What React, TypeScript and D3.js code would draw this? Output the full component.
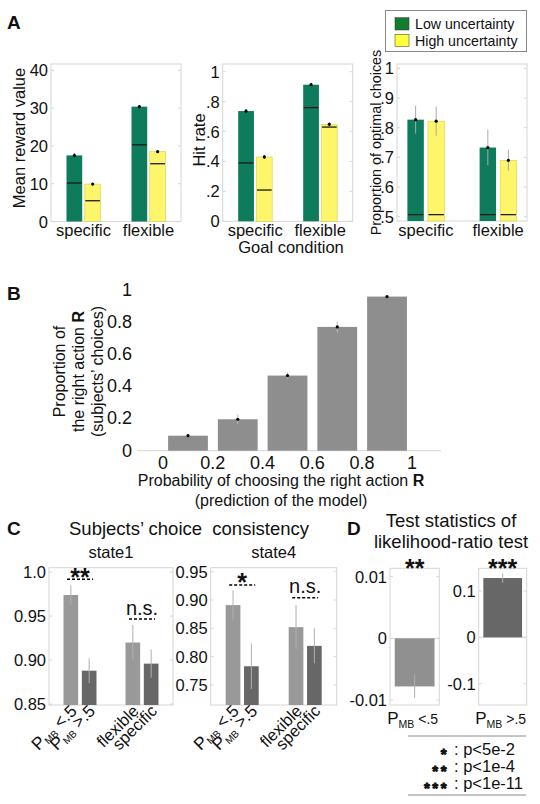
import React from 'react';
import * as d3 from 'd3';

// ---------------- Data ----------------
const goalConditions = ['specific', 'flexible'];
const uncertaintyLevels = ['Low uncertainty', 'High uncertainty'];

// A1 mean reward value
const rewardLow = [17.5, 30.4];
const rewardHigh = [9.9, 18.5];
const rewardLowErr = [0.5, 0.4];
const rewardHighErr = [0.3, 0.3];
const rewardRefLow = [10.2, 20.3];
const rewardRefHigh = [5.5, 15.3];
const rewardTicks = [0, 10, 20, 30, 40];

// A2 hit rate
const hitLow = [0.737, 0.913];
const hitHigh = [0.43, 0.648];
const hitLowErr = [0.012, 0.006];
const hitHighErr = [0.012, 0.012];
const hitRefLow = [0.39, 0.76];
const hitRefHigh = [0.209, 0.63];
const hitTicks = [0, 0.2, 0.4, 0.6, 0.8, 1];

// A3 proportion of optimal choices
const optLow = [0.827, 0.733];
const optHigh = [0.822, 0.69];
const optLowErr = [0.047, 0.06];
const optHighErr = [0.049, 0.035];
const optRefLow = [0.507, 0.507];
const optRefHigh = [0.507, 0.507];
const optTicks = [0.5, 0.6, 0.7, 0.8, 0.9, 1];

// B
const modelBins = [0.1, 0.3, 0.5, 0.7, 0.9];
const choiceProp = [0.093, 0.195, 0.466, 0.768, 0.956];
const choiceErr = [0.006, 0.03, 0.02, 0.035, 0.006];
const bYTicks = [0, 0.2, 0.4, 0.6, 0.8, 1];
const bXTicks = [0, 0.2, 0.4, 0.6, 0.8, 1];

// C
const consistencyGroups = ['pmbLow', 'pmbHigh', 'flexible', 'specific'];
const state1Cons = [0.974, 0.888, 0.92, 0.896];
const state1Err = [0.011, 0.014, 0.02, 0.016];
const state4Cons = [0.891, 0.783, 0.852, 0.819];
const state4Err = [0.026, 0.04, 0.039, 0.031];
const state1Ticks = [0.85, 0.9, 0.95, 1.0];
const state4Ticks = [0.75, 0.8, 0.85, 0.9, 0.95];
const state1Sig = ['**', 'n.s.'];
const state4Sig = ['*', 'n.s.'];

// D
const lrtStats = [-0.0078, 0.128];
const lrtErr = [0.0019, 0.01];
const lrtSig = ['**', '***'];
const lrtTicks1 = [-0.01, 0, 0.01];
const lrtTicks2 = [-0.1, 0, 0.1];
const sigStars = ['*', '**', '***'];
const sigText = [': p<5e-2', ': p<1e-4', ': p<1e-11'];

// ---------------- Style ----------------
const FONT = '"Liberation Sans", Arial, Helvetica, sans-serif';
const GREEN = '#0d7b5c';
const YELLOW = '#fdf56a';
const YELLOW_EDGE = '#d9cf4a';
const LEG_GREEN = '#127c2c';
const LEG_YELLOW = '#ffff3a';
const BOX = '#d6d6d6';
const LIGHT = '#999999';
const DARK = '#676767';
const TXT = '#111';
const STAR_FS = 25;

function GroupedPanel(props: any) {
  const { box, domain, ticks, fmt, low, high, lowErr, highErr, refLow, refHigh, padding, half, inner, errColor, fs } = props;
  const [x0, x1, y0, y1] = box;
  const y = d3.scaleLinear().domain(domain).range([y1, y0]);
  const xg = d3.scalePoint().domain(goalConditions).range([x0, x1]).padding(padding);
  const xs = d3.scaleBand().domain(uncertaintyLevels).range([-half, half]).paddingInner(inner);
  const series = [
    { key: uncertaintyLevels[0], vals: low, errs: lowErr, refs: refLow, fill: GREEN, stroke: 'none' },
    { key: uncertaintyLevels[1], vals: high, errs: highErr, refs: refHigh, fill: YELLOW, stroke: YELLOW_EDGE },
  ];
  const w = xs.bandwidth();
  return (
    <g>
      <rect x={x0} y={y0} width={x1 - x0} height={y1 - y0} fill="#fff" stroke={BOX} />
      {ticks.map((t: number) => (
        <g key={t}>
          <line x1={x0} x2={x0 + 3} y1={y(t)} y2={y(t)} stroke={BOX} />
          <line x1={x1} x2={x1 - 3} y1={y(t)} y2={y(t)} stroke={BOX} />
          <text x={x0 - 3} y={y(t)} textAnchor="end" dominantBaseline="central" fontSize={fs}>{fmt(t)}</text>
        </g>
      ))}
      {goalConditions.map((g, i) => (
        <g key={g}>
          {series.map((s) => {
            const bx = (xg(g) as number) + (xs(s.key) as number);
            const cx = bx + w / 2;
            return (
              <g key={s.key}>
                <rect x={bx} y={y(s.vals[i])} width={w} height={y(domain[0]) - y(s.vals[i])} fill={s.fill} stroke={s.stroke} strokeWidth={0.6} />
                <line x1={bx + 0.5} x2={bx + w - 0.5} y1={y(s.refs[i])} y2={y(s.refs[i])} stroke="#1a1a1a" strokeWidth={1.3} />
                <line x1={cx} x2={cx} y1={y(s.vals[i] - s.errs[i])} y2={y(s.vals[i] + s.errs[i])} stroke={errColor} strokeWidth={1} />
                <circle cx={cx} cy={y(s.vals[i])} r={1.6} fill="#000" />
              </g>
            );
          })}
          <text x={xg(g)} y={235.5} textAnchor="middle" fontSize={16.5}>{g}</text>
        </g>
      ))}
    </g>
  );
}

function PmbLabel({ sign, big, small, sub, shift }: any) {
  return (
    <>
      <tspan fontSize={big}>P</tspan>
      <tspan fontSize={sub} dy={shift}>MB</tspan>
      <tspan fontSize={small} dy={-shift}>{sign === '<' ? ' <.5' : ' >.5'}</tspan>
    </>
  );
}

function ConsistencyPanel(props: any) {
  const { box, domain, ticks, vals, errs, sig, sigY, title } = props;
  const [x0, x1, y0, y1] = box;
  const y = d3.scaleLinear().domain(domain).range([y1, y0]);
  const pairs = [consistencyGroups.slice(0, 2), consistencyGroups.slice(2, 4)];
  const xg = d3.scalePoint().domain(['pmb', 'goal']).range([x0, x1]).padding(0.5);
  const xsub = d3.scaleBand().domain(['a', 'b']).range([-16.5, 16.5]).paddingInner(0.2);
  const w = xsub.bandwidth();
  const midX = (x0 + x1) / 2;
  return (
    <g>
      <text x={midX} y={558} textAnchor="middle" fontSize={16.5}>{title}</text>
      <rect x={x0} y={y0} width={x1 - x0} height={y1 - y0} fill="#fff" stroke={BOX} />
      {ticks.map((t: number) => (
        <g key={t}>
          <line x1={x0} x2={x0 + 3} y1={y(t)} y2={y(t)} stroke={BOX} />
          <line x1={x1} x2={x1 - 3} y1={y(t)} y2={y(t)} stroke={BOX} />
          <text x={x0 - 3} y={y(t)} textAnchor="end" dominantBaseline="central" fontSize={16.5}>{d3.format('.2f')(t).replace('1.00', '1.0')}</text>
        </g>
      ))}
      {pairs.map((pair, gi) => {
        const gx = xg(gi === 0 ? 'pmb' : 'goal') as number;
        const isNs = sig[gi] === 'n.s.';
        return (
          <g key={gi}>
            {pair.map((key, k) => {
              const idx = consistencyGroups.indexOf(key);
              const bx = gx + (xsub(k === 0 ? 'a' : 'b') as number);
              const cx = bx + w / 2;
              return (
                <g key={key}>
                  <rect x={bx} y={y(vals[idx])} width={w} height={y1 - y(vals[idx])} fill={k === 0 ? LIGHT : DARK} />
                  <line x1={cx} x2={cx} y1={y(vals[idx] - errs[idx])} y2={y(vals[idx] + errs[idx])} stroke="#b0b0b0" strokeWidth={1} />
                  <text transform={`translate(${cx + 7},${712}) rotate(-45)`} textAnchor="end" fontSize={16.5}>
                    {key === 'pmbLow' ? <PmbLabel sign="<" big={17.5} small={17} sub={10} shift={2.5} /> : key === 'pmbHigh' ? <PmbLabel sign=">" big={17.5} small={17} sub={10} shift={2.5} /> : key}
                  </text>
                </g>
              );
            })}
            <line x1={gx - 13} x2={gx + 13} y1={sigY[gi]} y2={sigY[gi]} stroke="#000" strokeWidth={1.5} strokeDasharray="3,2" />
            <text x={gx} y={isNs ? sigY[gi] - 4.5 : sigY[gi] + 6.2} textAnchor="middle" fontSize={isNs ? 20 : STAR_FS} fontWeight={isNs ? 'normal' : 'bold'}>{sig[gi]}</text>
          </g>
        );
      })}
    </g>
  );
}

function LrtPanel(props: any) {
  const { box, domain, ticks, fmt, val, err, fill, sig, sign } = props;
  const [x0, x1, y0, y1] = box;
  const y = d3.scaleLinear().domain(domain).range([y1, y0]);
  const xb = d3.scaleBand().domain(['bar']).range([x0, x1]).paddingOuter(0.12).paddingInner(0);
  const bx = xb('bar') as number;
  const w = xb.bandwidth();
  const cx = bx + w / 2;
  return (
    <g>
      <rect x={x0} y={y0} width={x1 - x0} height={y1 - y0} fill="#fff" stroke={BOX} />
      {ticks.map((t: number) => (
        <g key={t}>
          <line x1={x0} x2={x0 + 3} y1={y(t)} y2={y(t)} stroke={BOX} />
          <line x1={x1} x2={x1 - 3} y1={y(t)} y2={y(t)} stroke={BOX} />
          <text x={x0 - 3} y={y(t)} textAnchor="end" dominantBaseline="central" fontSize={16.5}>{fmt(t)}</text>
        </g>
      ))}
      <line x1={x0} x2={x1} y1={y(0)} y2={y(0)} stroke={BOX} />
      <rect x={bx} y={Math.min(y(0), y(val))} width={w} height={Math.abs(y(val) - y(0))} fill={fill} />
      <line x1={cx} x2={cx} y1={y(val - err)} y2={y(val + err)} stroke="#b0b0b0" strokeWidth={1} />
      <text x={(x0 + x1) / 2} y={577} textAnchor="middle" fontSize={STAR_FS} fontWeight="bold">{sig}</text>
      <text x={(x0 + x1) / 2 - 2} y={724} textAnchor="middle" fontSize={17}>
        <PmbLabel sign={sign} big={17} small={14} sub={10.5} shift={4} />
      </text>
    </g>
  );
}

export default function App() {
  // Panel B scales
  const bx = d3.scaleLinear().domain([-0.105, 1.117]).range([137, 441]);
  const by = d3.scaleLinear().domain([0, 1]).range([450.7, 289.5]);
  const binW = 0.16;

  return (
    <svg width={540} height={804} style={{ position: 'absolute', left: 0, top: 0, fontFamily: FONT, background: '#fff' }} fill={TXT}>
      <rect x={0} y={0} width={540} height={804} fill="#fff" />
      {/* ---------- A ---------- */}
      <text x={7} y={29} fontSize={19} fontWeight="bold">A</text>
      <GroupedPanel box={[51, 181, 64, 221.5]} domain={[0, 41.7]} ticks={rewardTicks} fmt={(t: number) => String(t)}
        low={rewardLow} high={rewardHigh} lowErr={rewardLowErr} highErr={rewardHighErr} refLow={rewardRefLow} refHigh={rewardRefHigh}
        padding={0.5} half={17} inner={0.14} errColor="#000" fs={16.5} />
      <text transform="translate(19,138) rotate(-90)" textAnchor="middle" dominantBaseline="central" fontSize={16.5}>Mean reward value</text>

      <GroupedPanel box={[222.7, 352.7, 64, 221.3]} domain={[0, 1.0515]} ticks={hitTicks} fmt={(t: number) => (t === 0 ? '0' : t === 1 ? '1' : d3.format('.1f')(t).replace('0.', '.'))}
        low={hitLow} high={hitHigh} lowErr={hitLowErr} highErr={hitHighErr} refLow={hitRefLow} refHigh={hitRefHigh}
        padding={0.5} half={17} inner={0.14} errColor="#000" fs={16.5} />
      <text transform="translate(199,140) rotate(-90)" textAnchor="middle" dominantBaseline="central" fontSize={16.5}>Hit rate</text>
      <text x={291} y={253} textAnchor="middle" fontSize={16.5}>Goal condition</text>

      <GroupedPanel box={[397, 527, 64, 221]} domain={[0.4855, 1.0145]} ticks={optTicks} fmt={(t: number) => (t === 1 ? '1' : d3.format('.1f')(t).replace('0.', '.'))}
        low={optLow} high={optHigh} lowErr={optLowErr} highErr={optHighErr} refLow={optRefLow} refHigh={optRefHigh}
        padding={0.4} half={18.5} inner={0.2} errColor="#aaaaaa" fs={16.5} />
      <text transform="translate(376,142.5) rotate(-90)" textAnchor="middle" dominantBaseline="central" fontSize={14.4}>Proportion of optimal choices</text>

      {/* legend */}
      <rect x={385.5} y={10.5} width={141} height={41} fill="#fff" stroke="#8a8a8a" />
      <rect x={395} y={17.7} width={14} height={12.3} fill={LEG_GREEN} stroke="#333" strokeWidth={0.5} />
      <rect x={395} y={34.3} width={14} height={12.3} fill={LEG_YELLOW} stroke="#333" strokeWidth={0.5} />
      <text x={415} y={24} dominantBaseline="central" fontSize={14.2}>{uncertaintyLevels[0]}</text>
      <text x={415} y={40.5} dominantBaseline="central" fontSize={14.2}>{uncertaintyLevels[1]}</text>

      {/* ---------- B ---------- */}
      <text x={7} y={300} fontSize={19} fontWeight="bold">B</text>
      <line x1={137} x2={441} y1={450.7} y2={450.7} stroke={BOX} />
      {bYTicks.map((t) => (
        <text key={t} x={132} y={by(t)} textAnchor="end" dominantBaseline="central" fontSize={18}>{t === 0 || t === 1 ? String(t) : d3.format('.1f')(t)}</text>
      ))}
      {bXTicks.map((t) => (
        <text key={t} x={bx(t)} y={463} textAnchor="middle" dominantBaseline="central" fontSize={18}>{t === 0 || t === 1 ? String(t) : d3.format('.1f')(t)}</text>
      ))}
      {modelBins.map((m, i) => (
        <g key={m}>
          <rect x={bx(m - binW / 2)} y={by(choiceProp[i])} width={bx(m + binW / 2) - bx(m - binW / 2)} height={by(0) - by(choiceProp[i])} fill="#8e8e8e" />
          <line x1={bx(m)} x2={bx(m)} y1={by(choiceProp[i] - choiceErr[i])} y2={by(choiceProp[i] + choiceErr[i])} stroke="#bbbbbb" strokeWidth={1} />
          <circle cx={bx(m)} cy={by(choiceProp[i])} r={1.6} fill="#000" />
        </g>
      ))}
      <g fontSize={16}>
        <text transform="translate(59,371.5) rotate(-90)" textAnchor="middle" dominantBaseline="central">Proportion of</text>
        <text transform="translate(78,371.5) rotate(-90)" textAnchor="middle" dominantBaseline="central">the right action <tspan fontWeight="bold">R</tspan></text>
        <text transform="translate(97,371.5) rotate(-90)" textAnchor="middle" dominantBaseline="central">(subjects’ choices)</text>
        <text x={281} y={480} textAnchor="middle" dominantBaseline="central">Probability of choosing the right action <tspan fontWeight="bold">R</tspan></text>
        <text x={281} y={500} textAnchor="middle" dominantBaseline="central">(prediction of the model)</text>
      </g>

      {/* ---------- C ---------- */}
      <text x={7} y={535} fontSize={19} fontWeight="bold">C</text>
      <text x={189} y={535} textAnchor="middle" fontSize={18.5} style={{ whiteSpace: 'pre' }}>Subjects’ choice  consistency</text>
      <ConsistencyPanel box={[49, 173, 567.7, 705]} domain={[0.849, 1.005]} ticks={state1Ticks} vals={state1Cons} errs={state1Err}
        sig={state1Sig} sigY={[579.3, 619]} title="state1" />
      <ConsistencyPanel box={[210.7, 336.7, 567.7, 705]} domain={[0.7146, 0.957]} ticks={state4Ticks} vals={state4Cons} errs={state4Err}
        sig={state4Sig} sigY={[585, 597.7]} title="state4" />

      {/* ---------- D ---------- */}
      <text x={347} y={535} fontSize={19} fontWeight="bold">D</text>
      <text x={451} y={527} textAnchor="middle" fontSize={18.5}>Test statistics of</text>
      <text x={451} y={548} textAnchor="middle" fontSize={18.5}>likelihood-ratio test</text>
      <LrtPanel box={[390, 439.3, 568.3, 705]} domain={[-0.01081, 0.01136]} ticks={lrtTicks1} fmt={(t: number) => (t === 0 ? '0' : d3.format('.2f')(t).replace('−', '-'))}
        val={lrtStats[0]} err={lrtErr[0]} fill="#909090" sig={lrtSig[0]} sign="<" />
      <LrtPanel box={[478.7, 526.7, 568.3, 705]} domain={[-0.146, 0.149]} ticks={lrtTicks2} fmt={(t: number) => (t === 0 ? '0' : d3.format('.1f')(t).replace('−', '-'))}
        val={lrtStats[1]} err={lrtErr[1]} fill={DARK} sig={lrtSig[1]} sign=">" />
      <line x1={408} x2={526} y1={736} y2={736} stroke="#8a8a8a" />
      <line x1={408} x2={526} y1={795} y2={795} stroke="#8a8a8a" />
      {sigStars.map((s, i) => (
        <text key={s} x={449} y={758.5 + i * 17} textAnchor="end" fontSize={15} fontWeight="bold"
          stroke={TXT} strokeWidth={0.9} letterSpacing={2.5}>{s}</text>
      ))}
      {sigText.map((s, i) => (
        <text key={s} x={454} y={755.3 + i * 17} fontSize={16.5}>{s}</text>
      ))}
    </svg>
  );
}
